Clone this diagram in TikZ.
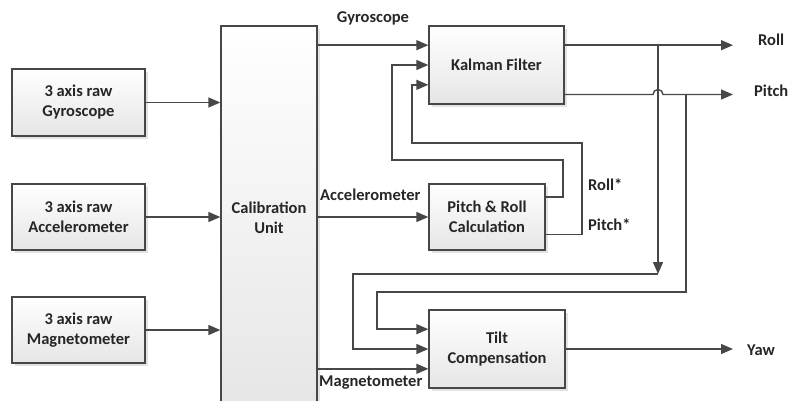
\documentclass[tikz,border=0pt]{standalone}
\usepackage{fontspec}
\setmainfont{Carlito}
\usetikzlibrary{arrows.meta,shadows,calc}
\begin{document}
\begin{tikzpicture}[x=1pt,y=-1pt]
\tikzset{
 blk/.style={draw=black!72, line width=1.3pt, top color=white, bottom color=black!10,
   drop shadow={opacity=0.22, shadow xshift=2.5pt, shadow yshift=-2.5pt},
   align=center, inner sep=0pt, font=\fontsize{16.5}{20}\selectfont\bfseries, text=black!85},
 con/.style={draw=black!72, line width=1.4pt},
 arr/.style={con, -{Triangle[length=12pt,width=10pt]}},
 lbl/.style={font=\fontsize{16.5}{20}\selectfont\bfseries, text=black!85, inner sep=0pt}
}
\useasboundingbox (0,0) rectangle (789,400);
% blocks
\node[blk, minimum width=133pt, minimum height=67pt] (g3) at (78.5,102.5) {3 axis raw\\Gyroscope};
\node[blk, minimum width=133pt, minimum height=66pt] (a3) at (78.5,217) {3 axis raw\\Accelerometer};
\node[blk, minimum width=133pt, minimum height=66pt] (m3) at (78.5,330) {3 axis raw\\Magnetometer};
\node[blk, minimum width=96pt, minimum height=384pt] (cal) at (269,218) {Calibration\\Unit};
\node[blk, minimum width=135pt, minimum height=78pt] (kf) at (496.5,65) {Kalman Filter};
\node[blk, minimum width=116pt, minimum height=66pt] (prc) at (487,217) {Pitch \& Roll\\Calculation};
\node[blk, minimum width=136pt, minimum height=78pt] (tc) at (497,349) {Tilt\\Compensation};
% raw -> calibration
\draw[arr] (g3.east) -- (g3.east -| cal.west);
\draw[arr] (a3.east) -- (a3.east -| cal.west);
\draw[arr] (m3.east) -- (m3.east -| cal.west);
% anchors on blocks
\coordinate (kfi1) at ($(kf.north west)!0.25!(kf.south west)$);
\coordinate (kfi2) at ($(kf.north west)!0.5!(kf.south west)$);
\coordinate (kfi3) at ($(kf.north west)!0.75!(kf.south west)$);
\coordinate (kfR) at ($(kf.north east)!0.25!(kf.south east)$);
\coordinate (kfP) at ($(kf.north east)!0.872!(kf.south east)$);
\coordinate (tci1) at ($(tc.north west)!0.25!(tc.south west)$);
\coordinate (tci2) at ($(tc.north west)!0.5!(tc.south west)$);
\coordinate (tci3) at ($(tc.north west)!0.75!(tc.south west)$);
\coordinate (prR) at ($(prc.north east)!0.2!(prc.south east)$);
\coordinate (prP) at ($(prc.north east)!0.76!(prc.south east)$);
\coordinate (outx) at (733,0);
\coordinate (jr) at (658,274);
\coordinate (jp) at (686,292);
\coordinate (cr1) at (353,274);
\coordinate (cp1) at (377,292);
\coordinate (fr1) at (563,160);
\coordinate (fr2) at (392,160);
\coordinate (fp1) at (582,143);
\coordinate (fp2) at (412,143);
% calibration -> blocks
\draw[arr] (cal.east |- kfi1) -- (kfi1);
\draw[arr] (cal.east |- prc.west) -- (prc.west);
\draw[arr] (cal.east |- tci3) -- (tci3);
% outputs
\draw[arr] (kfR) -- (kfR -| outx);
\draw[arr] (kfP) -- ([xshift=-5pt]kfP -| jr) arc[start angle=180, end angle=360, radius=5] -- (kfP -| outx);
\draw[arr] (tc.east) -- (tc.east -| outx);
% roll/pitch to tilt compensation
\draw[arr] (kfR -| jr) -- (jr);
\draw[arr] (jr) -- (cr1) -- (cr1 |- tci2) -- (tci2);
\draw[arr] (kfP -| jp) -- (jp) -- (cp1) -- (cp1 |- tci1) -- (tci1);
% feedback roll*, pitch*
\draw[arr] (prR) -- (prR -| fr1) -- (fr1) -- (fr2) -- (fr2 |- kfi2) -- (kfi2);
\draw[arr] (prP) -- (prP -| fp1) -- (fp1) -- (fp2) -- (fp2 |- kfi3) -- (kfi3);
% labels
\node[lbl] (lg) at (373,18) {Gyroscope};
\node[lbl, anchor=west] (la) at (320,195) {Accelerometer};
\node[lbl, anchor=west] (lm) at (319,383) {Magnetometer};
\node[lbl, anchor=west] (lr) at (588,185) {Roll*};
\node[lbl, anchor=west] (lp) at (588,225) {Pitch*};
\node[lbl, anchor=west] (oR) at (758,40) {Roll};
\node[lbl, anchor=west] (oP) at (754,91) {Pitch};
\node[lbl, anchor=west] (oY) at (747,350) {Yaw};
\end{tikzpicture}
\end{document}
